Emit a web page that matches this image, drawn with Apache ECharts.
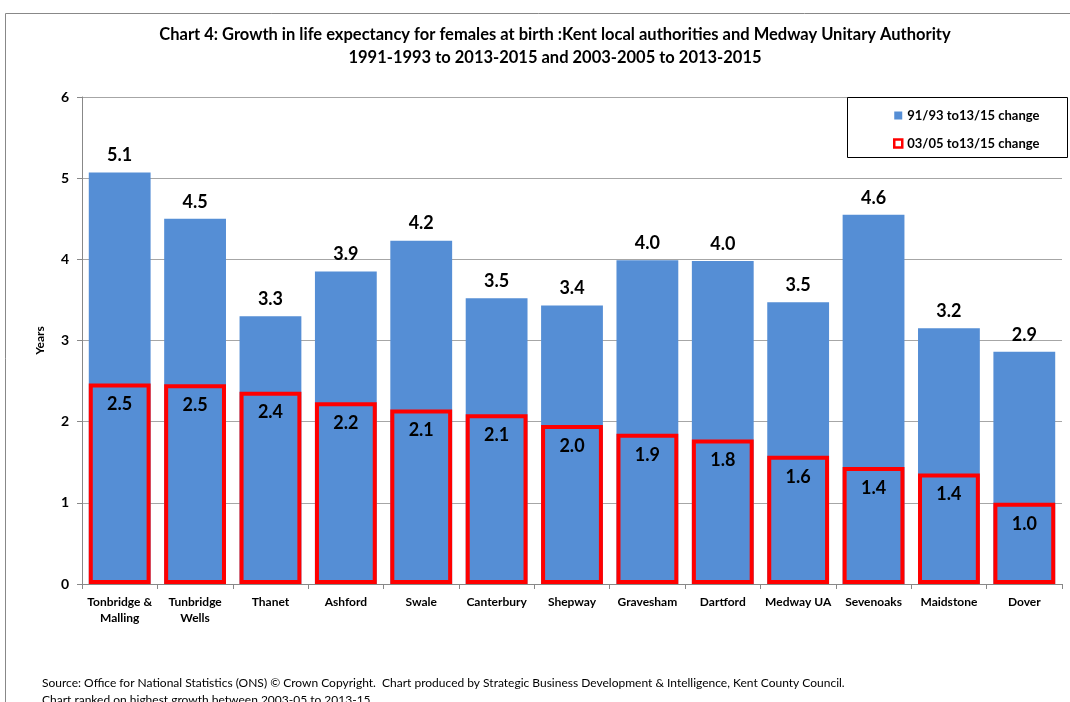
<!DOCTYPE html>
<html><head><meta charset="utf-8">
<script src="https://cdn.jsdelivr.net/npm/echarts@6/dist/echarts.min.js"></script>
<style>html,body{margin:0;padding:0;background:#fff}#c{width:1070px;height:702px}</style>
</head><body><div id="c"></div>
<script>
const categories = ['Tonbridge &\nMalling','Tunbridge\nWells','Thanet','Ashford','Swale','Canterbury','Shepway','Gravesham','Dartford','Medway UA','Sevenoaks','Maidstone','Dover'];
const change9193 = [5.07,4.50,3.30,3.85,4.23,3.52,3.43,3.99,3.98,3.47,4.55,3.15,2.86];
const change0305 = [2.47,2.46,2.37,2.24,2.15,2.09,1.96,1.85,1.78,1.58,1.44,1.36,1.00];
const blueLabels = ['5.1','4.5','3.3','3.9','4.2','3.5','3.4','4.0','4.0','3.5','4.6','3.2','2.9'];
const redLabels = ['2.5','2.5','2.4','2.2','2.1','2.1','2.0','1.9','1.8','1.6','1.4','1.4','1.0'];
const yTicks = [0,1,2,3,4,5,6];
const FONT = 'Lato, "Open Sans", sans-serif';
const chart = echarts.init(document.getElementById('c'));
chart.setOption({
  animation:false,
  textStyle:{fontFamily:FONT},
  title:{
    text:'Chart 4: Growth in life expectancy for females at birth :Kent local authorities and Medway Unitary Authority\n1991-1993 to 2013-2015 and 2003-2005 to 2013-2015',
    left:550, top:18, textAlign:'center',
    textStyle:{fontFamily:FONT,fontSize:16.5,fontWeight:'bold',color:'#000',lineHeight:23}
  },
  graphic:[
    {type:'rect',shape:{x:5.5,y:13.5,width:1080,height:720},style:{fill:'none',stroke:'#888',lineWidth:1},z:-1},
    {type:'rect',shape:{x:847.5,y:97.5,width:220,height:60},style:{fill:'#fff',stroke:'#000',lineWidth:1},z:5},
    {type:'text',left:42,top:675,style:{text:'Source: Office for National Statistics (ONS) © Crown Copyright.  Chart produced by Strategic Business Development & Intelligence, Kent County Council.\nChart ranked on highest growth between 2003-05 to 2013-15',fontFamily:FONT,fontSize:12,lineHeight:17,fill:'#000'}}
  ],
  legend:{
    orient:'vertical', left:888, top:104, itemGap:15, z:10,
    itemWidth:8, itemHeight:8,
    textStyle:{fontFamily:FONT,fontSize:13,fontWeight:'bold',color:'#000'},
    data:[
      {name:'91/93 to13/15 change',icon:'rect'},
      {name:'03/05 to13/15 change',icon:'rect',itemStyle:{color:'#fff',borderColor:'#ff0000',borderWidth:2.5}}
    ]
  },
  grid:{left:82,right:8,top:97,bottom:118,containLabel:false},
  xAxis:{
    type:'category', data:categories,
    axisLine:{lineStyle:{color:'#888'}},
    axisTick:{show:true,interval:0,length:5,lineStyle:{color:'#888'}},
    axisLabel:{interval:0,margin:10,fontFamily:FONT,fontSize:12,fontWeight:'bold',color:'#000',lineHeight:16}
  },
  yAxis:{
    type:'value', min:0, max:6, interval:1,
    name:'Years', nameLocation:'middle', nameGap:36, nameRotate:90,
    nameTextStyle:{fontFamily:FONT,fontSize:12,fontWeight:'bold',color:'#000'},
    axisLine:{show:true,lineStyle:{color:'#888'}},
    axisTick:{show:true,length:5,lineStyle:{color:'#888'}},
    splitLine:{lineStyle:{color:'#a6a6a6'}},
    axisLabel:{margin:13,fontFamily:FONT,fontSize:14,fontWeight:'bold',color:'#000',
      formatter:v=>yTicks.includes(v)?String(v):''}
  },
  series:[
    {name:'91/93 to13/15 change',type:'bar',data:change9193,barWidth:'82%',barGap:'-100%',
      itemStyle:{color:'#558ed5'},
      label:{show:true,position:'top',distance:8,formatter:p=>blueLabels[p.dataIndex],fontFamily:FONT,fontSize:18,fontWeight:'bold',color:'#000'}},
    {name:'03/05 to13/15 change',type:'bar',data:change0305,barWidth:'82%',
      itemStyle:{color:'rgba(0,0,0,0)',borderColor:'#ff0000',borderWidth:4},
      label:{show:true,position:'insideTop',distance:12,formatter:p=>redLabels[p.dataIndex],fontFamily:FONT,fontSize:18,fontWeight:'bold',color:'#000'}}
  ]
});
</script></body></html>
